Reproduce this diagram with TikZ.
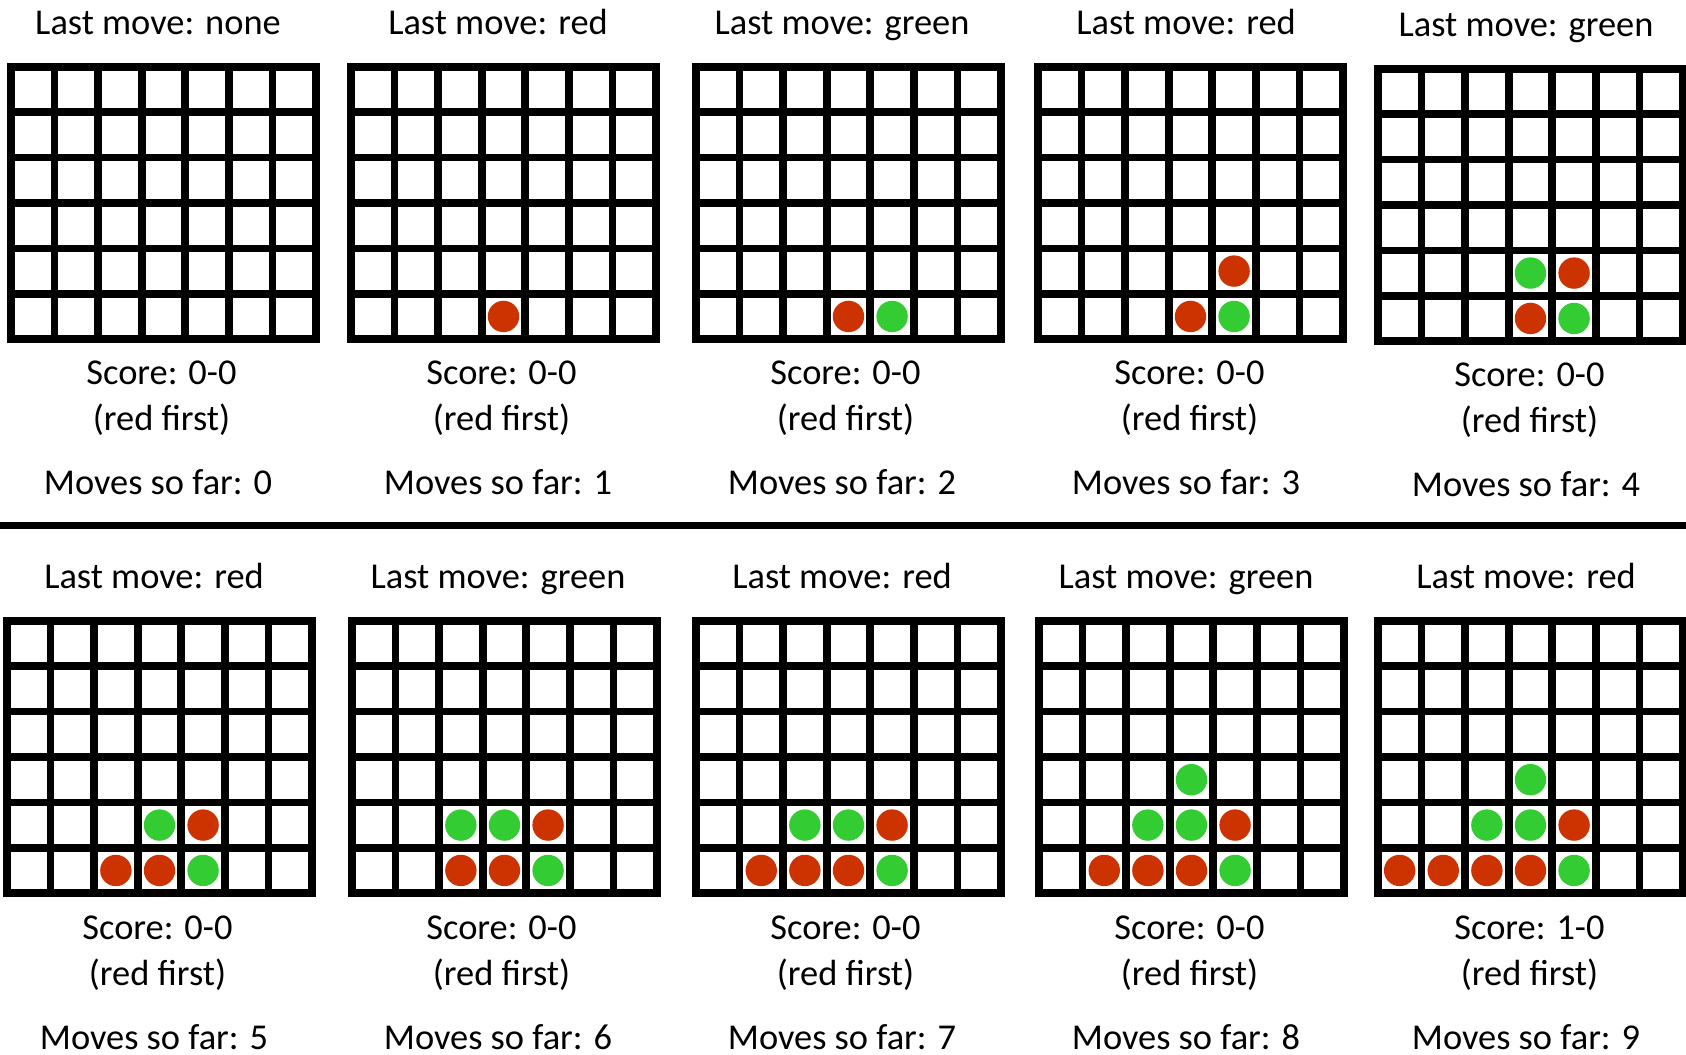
\documentclass[tikz,border=0pt]{standalone}
\usepackage{fontspec}
\setmainfont{Carlito}
\definecolor{pcRed}{RGB}{204,51,0}
\definecolor{pcGrn}{RGB}{51,204,51}

\begin{document}
\begin{tikzpicture}[x=0.75pt,y=-0.75pt,font=\fontsize{27.3}{32}\selectfont]
  \tikzset{gridln/.style={line width=5.8pt,line cap=rect},redpc/.style={fill=pcRed},grnpc/.style={fill=pcGrn},lbl/.style={anchor=base,inner sep=0pt}}
  \useasboundingbox (0,0) rectangle (1686,1055);
  % boards: number/left/top/label x/last move/score
  \foreach \n/\bx/\by/\tx/\last/\sc in {1/7/63/158/none/0-0,2/347/63/498/red/0-0,3/692/63/842/green/0-0,4/1034/63/1186/red/0-0,5/1374/65/1526/green/0-0,
      6/3/617/154/red/0-0,7/348/617/498/green/0-0,8/692/617/842/red/0-0,9/1035/617/1186/green/0-0,10/1374/617/1526/red/1-0} {
    \coordinate (b\n) at (\bx,\by);
    \foreach \i in {0,...,7}
      \draw[gridln] (\bx+3.85+\i*43.61,\by+3.85) -- ++(0,272.3);
    \foreach \j in {0,...,6}
      \draw[gridln] (\bx+3.85,\by+3.85+\j*45.38) -- ++(305.3,0);
    \node[lbl] (t\n) at (\tx,\by-28) {Last move: \last};
    \node[lbl] (s\n) at (\tx+3.5,\by+322) {Score: \sc};
    \node[lbl] (f\n) at (\tx+3.5,\by+368) {(red first)};
    \node[lbl] (m\n) at (\tx,\by+432) {Moves so far: \the\numexpr\n-1\relax};
  }
  % pieces: board/column/row from bottom/colour
  \foreach \n/\c/\r/\s in {2/3/0/redpc,
      3/3/0/redpc,3/4/0/grnpc,
      4/3/0/redpc,4/4/0/grnpc,4/4/1/redpc,
      5/3/0/redpc,5/4/0/grnpc,5/4/1/redpc,5/3/1/grnpc,
      6/2/0/redpc,6/3/0/redpc,6/4/0/grnpc,6/3/1/grnpc,6/4/1/redpc,
      7/2/0/redpc,7/3/0/redpc,7/4/0/grnpc,7/2/1/grnpc,7/3/1/grnpc,7/4/1/redpc,
      8/1/0/redpc,8/2/0/redpc,8/3/0/redpc,8/4/0/grnpc,8/2/1/grnpc,8/3/1/grnpc,8/4/1/redpc,
      9/1/0/redpc,9/2/0/redpc,9/3/0/redpc,9/4/0/grnpc,9/2/1/grnpc,9/3/1/grnpc,9/4/1/redpc,9/3/2/grnpc,
      10/0/0/redpc,10/1/0/redpc,10/2/0/redpc,10/3/0/redpc,10/4/0/grnpc,10/2/1/grnpc,10/3/1/grnpc,10/4/1/redpc,10/3/2/grnpc}
    \fill[\s] ([shift={({3.85+\c*43.61+21.8},{3.85+(5-\r)*45.38+22.7})}]b\n) circle (15.7);
  % separator between the two rows
  \draw[line width=5.7pt] (0,525.5) -- (1686,525.5);
\end{tikzpicture}
\end{document}
